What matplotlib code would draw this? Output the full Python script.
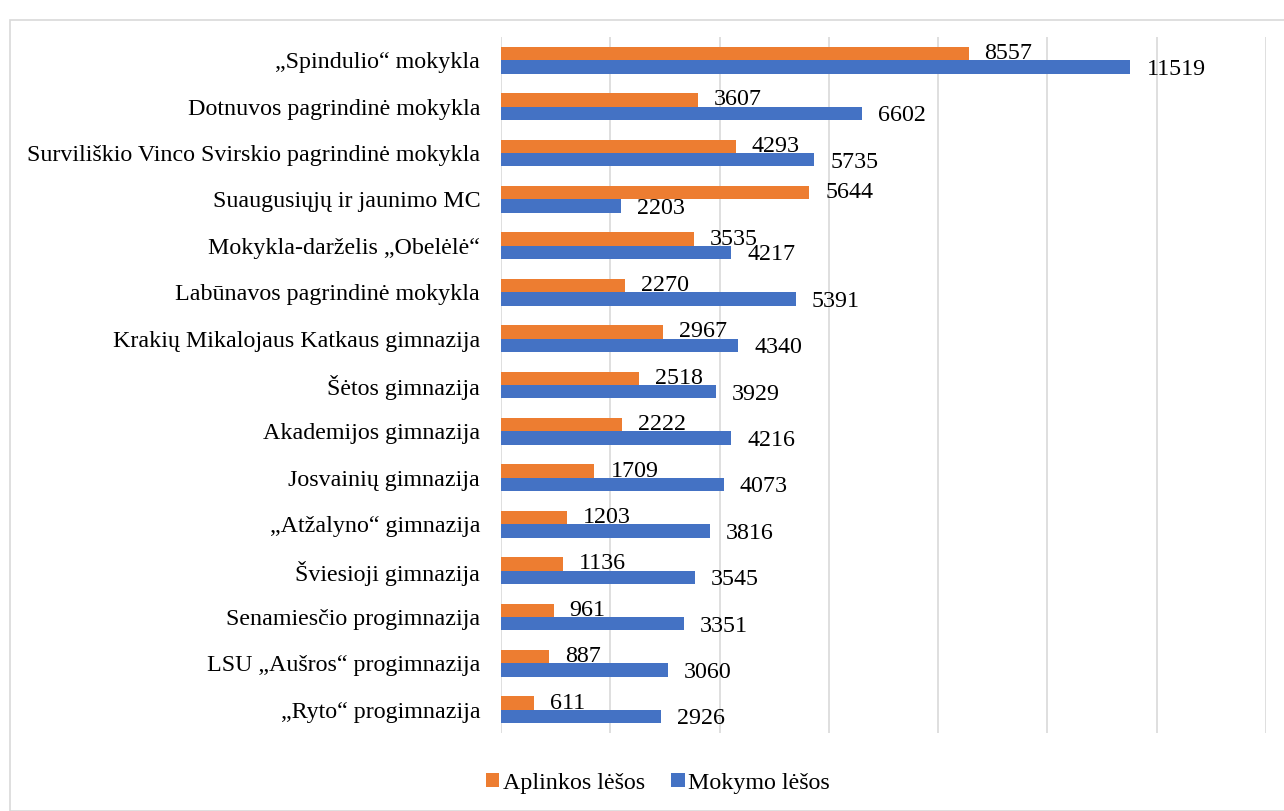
import matplotlib
matplotlib.use("Agg")
import matplotlib.pyplot as plt
import numpy as np
from matplotlib.patches import Rectangle

categories = ["„Spindulio“ mokykla", "Dotnuvos pagrindinė mokykla",
              "Surviliškio Vinco Svirskio pagrindinė mokykla", "Suaugusiųjų ir jaunimo MC",
              "Mokykla-darželis „Obelėlė“", "Labūnavos pagrindinė mokykla",
              "Krakių Mikalojaus Katkaus gimnazija", "Šėtos gimnazija",
              "Akademijos gimnazija", "Josvainių gimnazija", "„Atžalyno“ gimnazija",
              "Šviesioji gimnazija", "Senamiesčio progimnazija",
              "LSU „Aušros“ progimnazija", "„Ryto“ progimnazija"]
aplinkos = [8557, 3607, 4293, 5644, 3535, 2270, 2967, 2518, 2222, 1709, 1203, 1136, 961, 887, 611]
mokymo = [11519, 6602, 5735, 2203, 4217, 5391, 4340, 3929, 4216, 4073, 3816, 3545, 3351, 3060, 2926]
series_names = ["Aplinkos lėšos", "Mokymo lėšos"]

plt.rcParams['font.family'] = ['Liberation Serif', 'DejaVu Serif']
FS = 17.3
W, H = 1284, 811
fig = plt.figure(figsize=(W/100, H/100), dpi=100)
fig.patches.append(Rectangle((10/W, 0), 1.2, 1 - 20/H, transform=fig.transFigure,
                             fill=False, edgecolor='#d9d9d9', lw=1.2))
ax = fig.add_axes([501/W, 1 - 733/H, (1266-501)/W, (733-37)/H])

n = len(categories)
y = np.arange(n)
h = 0.29
orange = '#ED7D31'
blue = '#4472C4'
b1 = ax.barh(y - h/2, aplinkos, height=h, color=orange, label=series_names[0])
b2 = ax.barh(y + h/2, mokymo, height=h, color=blue, label=series_names[1])
for rect, v in zip(b1, aplinkos):
    ax.annotate(str(v), (rect.get_width(), rect.get_y() + rect.get_height()/2),
                xytext=(16, 0), textcoords='offset pixels',
                va='center', ha='left', fontsize=FS)
for rect, v in zip(b2, mokymo):
    ax.annotate(str(v), (rect.get_width(), rect.get_y() + rect.get_height()/2 + 0.05),
                xytext=(16, 0), textcoords='offset pixels',
                va='center', ha='left', fontsize=FS)

ax.set_ylim(n - 0.5, -0.5)
ax.set_xlim(0, 14000)
ax.set_xticks(np.arange(0, 14001, 2000))
ax.set_xticklabels([])
ax.tick_params(axis='x', length=0)
ax.set_yticks(y)
ax.set_yticklabels(categories, fontsize=FS)
ax.tick_params(axis='y', length=0, pad=15)
ax.grid(axis='x', color='#d9d9d9', lw=1.2)
ax.set_axisbelow(True)
for s in ax.spines.values():
    s.set_visible(False)

fig.legend(handles=[b1, b2], labels=series_names, loc='center', bbox_to_anchor=(658/W, 1 - 783/H),
           ncol=2, frameon=False, fontsize=FS, handlelength=0.55, handleheight=0.55,
           handletextpad=0.15, columnspacing=1.1)
fig.savefig('out.png', dpi=100)
